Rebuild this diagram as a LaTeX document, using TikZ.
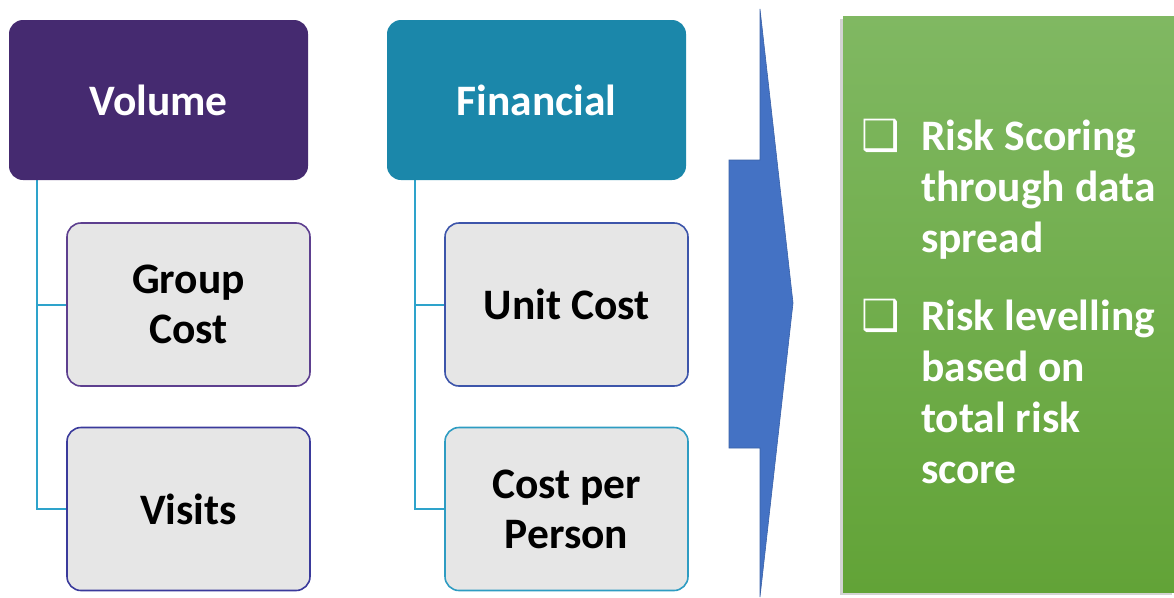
\documentclass[tikz,border=0pt]{standalone}
\usepackage{fontspec}
\setmainfont{Carlito}
\newfontfamily\boxfont{DejaVu Sans}
\usetikzlibrary{shadows}
\pgfdeclarelayer{bg}
\pgfsetlayers{bg,main}
\definecolor{volpurple}{HTML}{452A70}
\definecolor{finteal}{HTML}{1B87AA}
\definecolor{boxgray}{HTML}{E6E6E6}
\definecolor{linkblue}{HTML}{2EA3CB}
\definecolor{arrowblue}{HTML}{4472C4}
\definecolor{greentop}{HTML}{80B862}
\definecolor{greenbot}{HTML}{62A337}
\tikzset{
    head/.style={rectangle, rounded corners=14pt, minimum width=299pt,
        minimum height=160pt, text=white,
        font=\bfseries\fontsize{43.5}{51}\selectfont},
    item/.style={rectangle, rounded corners=14pt, draw, line width=1.6pt,
        fill=boxgray, minimum width=243pt, minimum height=163pt, align=center,
        font=\bfseries\fontsize{43.5}{50}\selectfont},
    link/.style={draw=linkblue, line width=2pt},
    panel/.style={rectangle, minimum width=332pt, minimum height=576pt,
        top color=greentop, bottom color=greenbot,
        drop shadow={shadow xshift=-3pt, shadow yshift=-3pt, opacity=.35}},
    note/.style={text=white, align=left, anchor=base west, inner sep=0pt,
        font=\bfseries\fontsize{43.5}{51}\selectfont},
    tick/.style={text=white, inner sep=0pt,
        font=\boxfont\fontsize{43}{43}\selectfont}
}

\begin{document}
\begin{tikzpicture}[x=1pt, y=-1pt]
  \useasboundingbox (0, 0) rectangle (1174, 597);

  % two groups of measures
  \node (vol) [head, fill=volpurple] at (158.5, 100) {Volume};
  \node (fin) [head, fill=finteal] at (536.5, 100) {Financial};

  \node (grp) [item, draw={rgb,255:red,93;green,63;blue,143}] at (188.5, 304.5) {Group\\Cost};
  \node (vis) [item, draw={rgb,255:red,58;green,58;blue,155}] at (188.5, 509) {Visits};
  \node (unit) [item, draw={rgb,255:red,61;green,85;blue,170}] at (566.5, 304.5) {Unit Cost};
  \node (cpp) [item, draw={rgb,255:red,46;green,156;blue,194}] at (566.5, 509) {Cost per\\Person};

  \begin{pgfonlayer}{bg}
    \draw [link] ([xshift=28pt]vol.south west) |- (grp.west);
    \draw [link] ([xshift=28pt]vol.south west) |- (vis.west);
    \draw [link] ([xshift=28pt]fin.south west) |- (unit.west);
    \draw [link] ([xshift=28pt]fin.south west) |- (cpp.west);
  \end{pgfonlayer}

  % big arrow
  \filldraw [fill=arrowblue, draw=arrowblue!85!black, line width=.6pt]
    (729, 160) -- (760, 160) -- (760, 9) -- (793, 303) -- (760, 597)
    -- (760, 448) -- (729, 448) -- cycle;

  % outcome panel (notes sit on the baseline of their last line)
  \node (out) [panel] at (1009, 304) {};
  \node (c1) [tick] at (881, 136) {❑};
  \node (t1) [note] at (921, 252) {Risk Scoring\\through data\\spread};
  \node (c2) [tick] at (881, 316) {❑};
  \node (t2) [note] at (921, 483) {Risk levelling\\based on\\total risk\\score};

\end{tikzpicture}
\end{document}
